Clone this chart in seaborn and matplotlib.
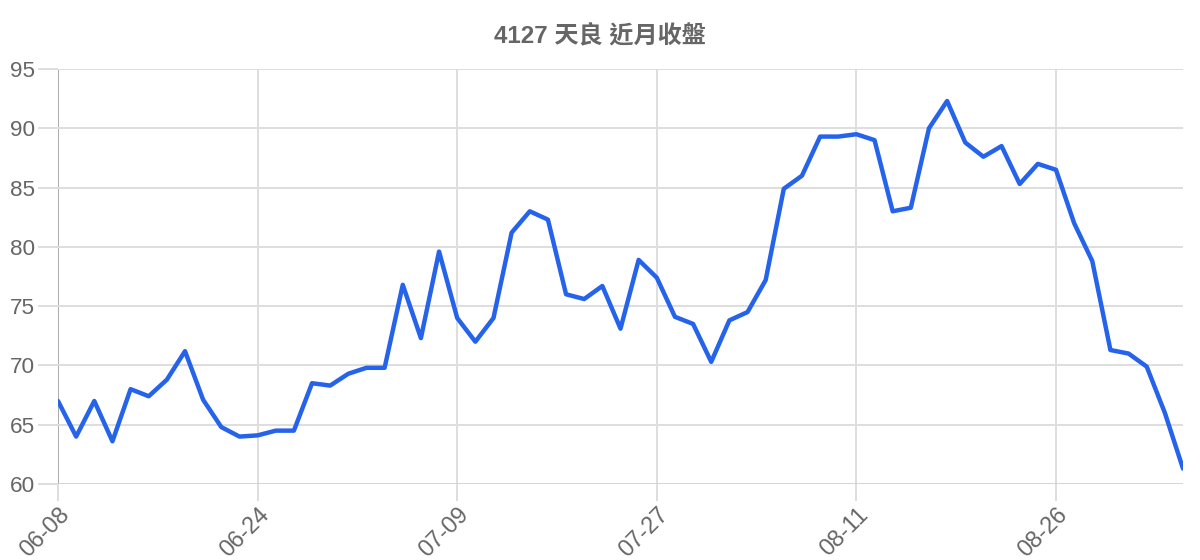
import matplotlib
matplotlib.use("Agg")
import matplotlib.pyplot as plt
import seaborn as sns
import pandas as pd

dates = [
    "06-08", "06-09", "06-10", "06-11", "06-15", "06-16", "06-17", "06-18",
    "06-21", "06-22", "06-23", "06-24", "06-25", "06-28", "06-29", "06-30",
    "07-01", "07-02", "07-05", "07-06", "07-07", "07-08", "07-09", "07-12",
    "07-13", "07-14", "07-15", "07-16", "07-20", "07-21", "07-22", "07-23",
    "07-26", "07-27", "07-28", "07-29", "07-30", "08-02", "08-03", "08-04",
    "08-05", "08-06", "08-09", "08-10", "08-11", "08-12", "08-13", "08-16",
    "08-17", "08-18", "08-19", "08-20", "08-23", "08-24", "08-25", "08-26",
    "08-27", "08-30", "08-31", "09-01", "09-02", "09-03", "09-06",
]
close = [
    67.0, 64.0, 67.0, 63.6, 68.0, 67.4, 68.8, 71.2, 67.1, 64.8,
    64.0, 64.1, 64.5, 64.5, 68.5, 68.3, 69.3, 69.8, 69.8, 76.8,
    72.3, 79.6, 74.0, 72.0, 74.0, 81.2, 83.0, 82.3, 76.0, 75.6,
    76.7, 73.1, 78.9, 77.4, 74.1, 73.5, 70.3, 73.8, 74.5, 77.2,
    84.9, 86.0, 89.3, 89.3, 89.5, 89.0, 83.0, 83.3, 90.0, 92.3,
    88.8, 87.6, 88.5, 85.3, 87.0, 86.5, 82.0, 78.8, 71.3, 71.0,
    69.9, 66.0, 61.3,
]
title = "4127 天良 近月收盤"
y_ticks = [60, 65, 70, 75, 80, 85, 90, 95]
x_tick_step = 11

sns.set_theme(style="white")
plt.rcParams['font.family'] = ['Liberation Sans', 'Noto Sans CJK TC', 'DejaVu Sans']

df = pd.DataFrame({"idx": range(len(close)), "close": close})

fig = plt.figure(figsize=(12, 5.6), dpi=100)
ax = fig.add_axes([58 / 1200, 1 - 484 / 560, (1183 - 58) / 1200, (484 - 69) / 560])

grid_c = "#dedede"
text_c = "#666666"

xt = list(range(0, len(close), x_tick_step))
for x in xt:
    ax.axvline(x, color=grid_c if x != 0 else "#aaaaaa", lw=1.4, zorder=0)
for y in y_ticks:
    ax.axhline(y, color=grid_c if y != 60 else "#cccccc", lw=1.4 if y != 60 else 1.9, zorder=0)

sns.lineplot(data=df, x="idx", y="close", ax=ax, color="#2563eb", lw=3.2, zorder=3)

ax.set_xlim(0, len(close) - 1)
ax.set_ylim(60, 95)
ax.set_yticks(y_ticks)
ax.set_yticklabels([str(v) for v in y_ticks], fontsize=16.2, color=text_c)
ax.set_xticks(xt)
ax.set_xticklabels([dates[i] for i in xt], fontsize=16.8, color=text_c,
                   rotation=45, ha="right", rotation_mode="anchor")
ax.tick_params(axis="y", length=14.5, width=1.4, color=grid_c, pad=2, left=True)
ax.tick_params(axis="x", length=12.5, width=1.4, color=grid_c, pad=1, bottom=True)
xtl = ax.xaxis.get_ticklines()
xtl[0].set_color("#aaaaaa")
ytl = ax.yaxis.get_ticklines()
ytl[0].set_color("#cccccc")
for s in ax.spines.values():
    s.set_visible(False)
ax.set_xlabel("")
ax.set_ylabel("")

fig.text(600 / 1200, 1 - 36 / 560, title, ha="center", va="center",
         fontsize=17.4, fontweight="bold", color=text_c)

fig.savefig("out.png", dpi=100, facecolor="white")
